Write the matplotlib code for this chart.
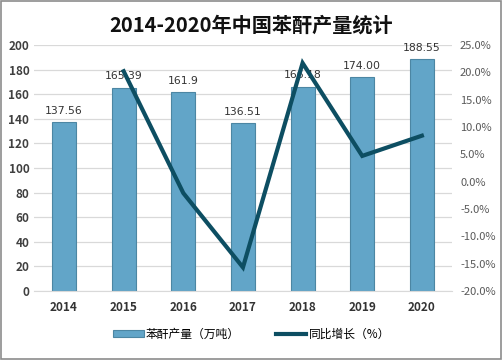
import matplotlib
matplotlib.use("Agg")
import matplotlib.pyplot as plt
from matplotlib.ticker import FuncFormatter
from matplotlib.patches import Rectangle

plt.rcParams['font.family'] = ['Noto Sans CJK SC', 'DejaVu Sans']

years = ["2014", "2015", "2016", "2017", "2018", "2019", "2020"]
output = [137.56, 165.39, 161.9, 136.51, 166.18, 174.00, 188.55]
output_labels = ["137.56", "165.39", "161.9", "136.51", "166.18", "174.00", "188.55"]
growth_years = ["2015", "2016", "2017", "2018", "2019", "2020"]
growth = [20.2, -2.1, -15.7, 21.7, 4.7, 8.4]

fig = plt.figure(figsize=(5.03, 3.6), dpi=100)
fig.patches.append(Rectangle((0.002, 0.003), 0.995, 0.994, transform=fig.transFigure,
                             fill=False, edgecolor="#8c8c8c", linewidth=1.2))
ax = fig.add_axes([0.068, 0.192, 0.83, 0.683])
ax2 = ax.twinx()

x = list(range(len(years)))
bars = ax.bar(x, output, width=0.4, color="#62a5c8", edgecolor="#4c86a3",
              linewidth=0.8, zorder=2, label="苯酐产量（万吨）")
for xi, v, s in zip(x, output, output_labels):
    ax.text(xi, v + 5, s, ha="center", va="bottom", fontsize=7.8,
            color="#333333", family=["DejaVu Sans"], zorder=1)

gx = [years.index(y) for y in growth_years]
line, = ax2.plot(gx, growth, color="#0d4e62", linewidth=3, label="同比增长（%）",
                 solid_joinstyle="miter", zorder=5)

ax.set_ylim(0, 200)
ax.set_yticks(range(0, 201, 20))
ax2.set_ylim(-20, 25)
ax2.set_yticks(range(-20, 26, 5))
ax2.yaxis.set_major_formatter(FuncFormatter(lambda v, p: f"{v:.1f}%"))
ax.set_xlim(-0.5, len(years) - 0.5)
ax.set_xticks(x)
ax.set_xticklabels(years, fontweight="bold", fontsize=8.5, color="#333333")

ax.grid(axis="y", color="#d9d9d9", linewidth=0.9, zorder=0)
ax.set_axisbelow(True)
for a in (ax, ax2):
    for sp in a.spines.values():
        sp.set_visible(False)
ax.spines["bottom"].set_visible(True)
ax.spines["bottom"].set_color("#d9d9d9")
ax.tick_params(axis="both", length=0)
ax2.tick_params(axis="y", length=0, pad=6)
ax.tick_params(axis="x", pad=7)
for t in ax.get_yticklabels():
    t.set_fontsize(8.5)
    t.set_fontweight("bold")
    t.set_color("#404040")
for t in ax2.get_yticklabels():
    t.set_fontsize(8)
    t.set_color("#595959")

fig.text(0.5, 0.93, "2014-2020年中国苯酐产量统计", ha="center", va="center",
         fontsize=14.5, fontweight="bold", color="#111111")

fig.legend([bars, line], ["苯酐产量（万吨）", "同比增长（%）"], loc="center",
           bbox_to_anchor=(0.5, 0.072), ncol=2, frameon=False, fontsize=8.5,
           handlelength=2.6, handleheight=0.5, columnspacing=3.0, handletextpad=0.2)

fig.savefig("out.png", dpi=100)
